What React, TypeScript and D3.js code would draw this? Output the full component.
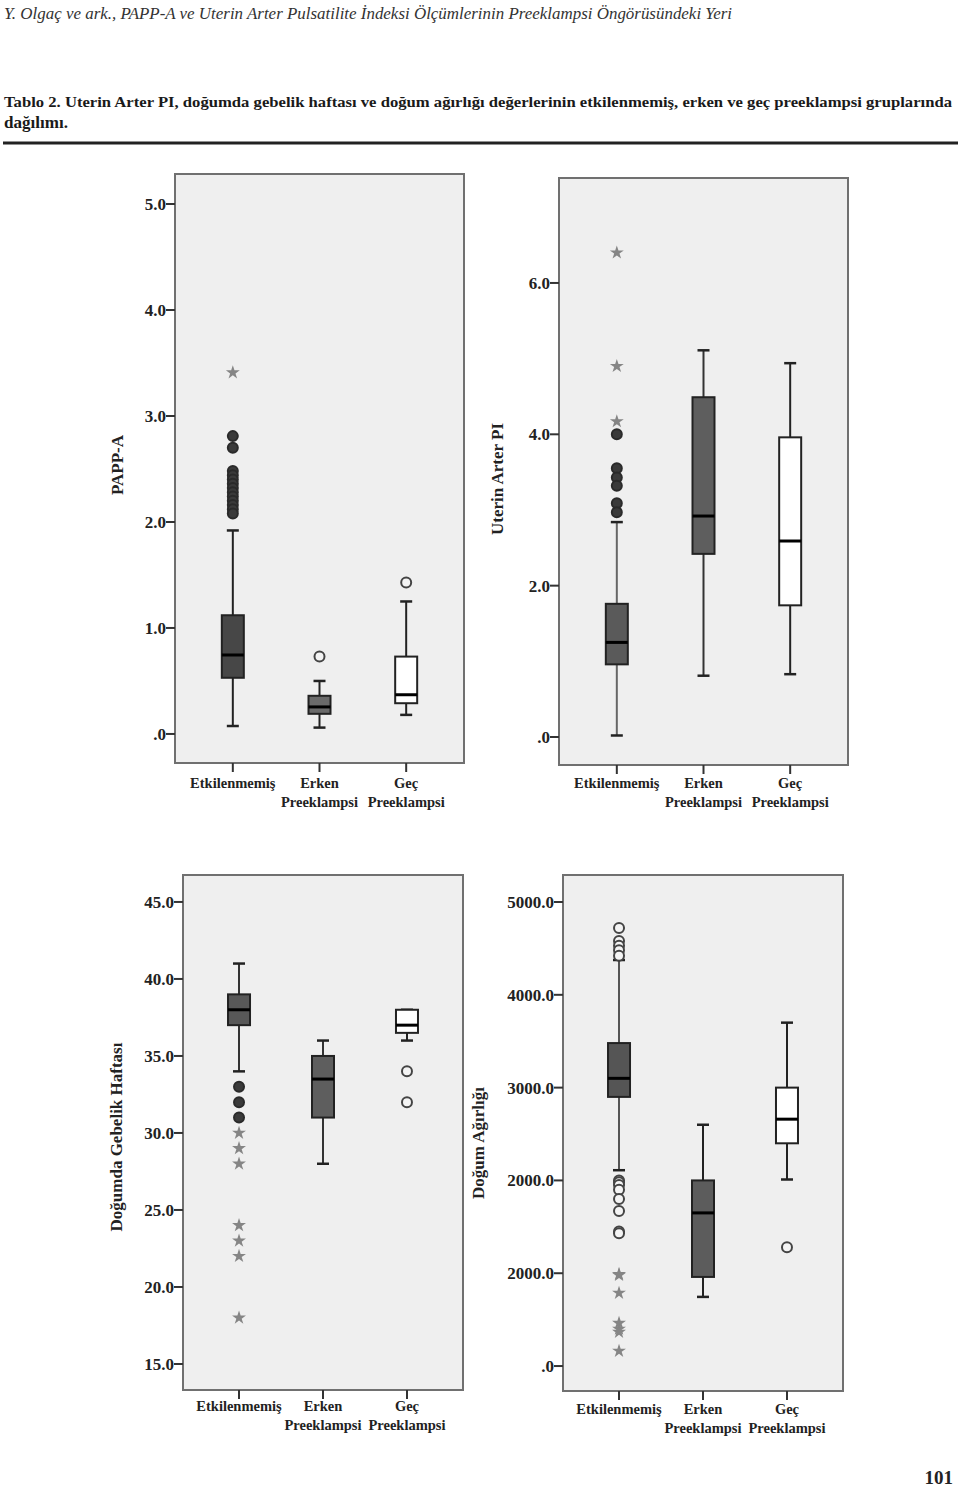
import React from "react";
import * as d3 from "d3";

// ---------- data ----------
const catLine1 = ["Etkilenmemiş", "Erken", "Geç"];
const catLine2 = ["", "Preeklampsi", "Preeklampsi"];

// [min whisker, Q1, median, Q3, max whisker] per group
const pappaStats = [
  [0.075, 0.53, 0.745, 1.12, 1.92],
  [0.06, 0.19, 0.255, 0.36, 0.5],
  [0.18, 0.29, 0.37, 0.73, 1.25],
];
const pappaCircles = [
  [2.81, 2.7, 2.48, 2.44, 2.4, 2.36, 2.32, 2.28, 2.24, 2.2, 2.16, 2.12, 2.08],
  [0.73],
  [1.43],
];
const pappaStars = [[3.41], [], []];
const pappaTicks = [0, 1, 2, 3, 4, 5];
const pappaTickLabels = [".0", "1.0", "2.0", "3.0", "4.0", "5.0"];

const piStats = [
  [0.02, 0.96, 1.25, 1.76, 2.84],
  [0.81, 2.42, 2.92, 4.49, 5.11],
  [0.83, 1.74, 2.59, 3.96, 4.94],
];
const piCircles = [[4.0, 3.55, 3.43, 3.32, 3.09, 2.97], [], []];
const piStars = [[6.4, 4.9, 4.17], [], []];
const piTicks = [0, 2, 4, 6];
const piTickLabels = [".0", "2.0", "4.0", "6.0"];

const gaStats = [
  [34, 37, 38, 39, 41],
  [28, 31, 33.5, 35, 36],
  [36, 36.5, 37, 38, 38],
];
const gaCircles = [[33, 32, 31], [], [34, 32]];
const gaStars = [[30, 29, 28, 24, 23, 22, 18], [], []];
const gaTicks = [15, 20, 25, 30, 35, 40, 45];
const gaTickLabels = ["15.0", "20.0", "25.0", "30.0", "35.0", "40.0", "45.0"];

const bwStats = [
  [2110, 2900, 3100, 3480, 4375],
  [745, 960, 1650, 2000, 2600],
  [2010, 2400, 2660, 3000, 3700],
];
const bwCircles = [
  [4720, 4580, 4530, 4480, 4420, 2000, 1980, 1950, 1900, 1800, 1670, 1450, 1430],
  [],
  [1280],
];
const bwStars = [[990, 980, 787, 463, 400, 366, 162], [], []];
const bwTicks = [0, 1000, 2000, 3000, 4000, 5000];
const bwTickLabels = [".0", "2000.0", "2000.0", "3000.0", "4000.0", "5000.0"];

// ---------- styling ----------
const SERIF = "'Liberation Serif', 'DejaVu Serif', serif";

type PanelProps = {
  x0: number; x1: number; y0: number; y1: number;
  domain: [number, number];
  stats: number[][];
  circles: number[][];
  stars: number[][];
  ticks: number[];
  tickLabels: string[];
  fills: string[];
  filledCircles: boolean[];
  whiskerColors: string[];
  title: string;
  titleX: number;
  titleY: number;
  catY: number;
};

function Panel(p: PanelProps) {
  const y = d3.scaleLinear().domain(p.domain).range([p.y1, p.y0]);
  const x = d3.scalePoint<number>().domain([0, 1, 2]).range([p.x0, p.x1]).padding(0.667);
  const bw = 22;
  const cap = 12;
  const star = d3.symbol().type(d3.symbolStar).size(60)();
  return (
    <g>
      <rect x={p.x0} y={p.y0} width={p.x1 - p.x0} height={p.y1 - p.y0}
        fill="#efefef" stroke="#707070" strokeWidth={2} />
      {p.ticks.map((t, i) => (
        <g key={"t" + i}>
          <line x1={p.x0 - 9} x2={p.x0} y1={y(t)} y2={y(t)} stroke="#333" strokeWidth={2} />
          <text x={p.x0 - 9} y={y(t)} dy="0.35em" textAnchor="end"
            fontFamily={SERIF} fontWeight="bold" fontSize={17} fill="#222">{p.tickLabels[i]}</text>
        </g>
      ))}
      {[0, 1, 2].map((g) => {
        const cx = x(g) as number;
        const [mn, q1, md, q3, mx] = p.stats[g];
        return (
          <g key={"b" + g}>
            <line x1={cx} x2={cx} y1={p.y1} y2={p.y1 + 9} stroke="#333" strokeWidth={2} />
            <text x={cx} y={p.catY} textAnchor="middle" fontFamily={SERIF} fontWeight="bold"
              fontSize={14.5} fill="#222">{catLine1[g]}</text>
            {catLine2[g] && (
              <text x={cx} y={p.catY + 19} textAnchor="middle" fontFamily={SERIF} fontWeight="bold"
                fontSize={14.5} fill="#222">{catLine2[g]}</text>
            )}
            <line x1={cx} x2={cx} y1={y(mx)} y2={y(q3)} stroke={p.whiskerColors[g]} strokeWidth={2} />
            <line x1={cx} x2={cx} y1={y(q1)} y2={y(mn)} stroke={p.whiskerColors[g]} strokeWidth={2} />
            <line x1={cx - cap / 2} x2={cx + cap / 2} y1={y(mx)} y2={y(mx)} stroke="#222" strokeWidth={2.5} />
            <line x1={cx - cap / 2} x2={cx + cap / 2} y1={y(mn)} y2={y(mn)} stroke="#222" strokeWidth={2.5} />
            <rect x={cx - bw / 2} y={y(q3)} width={bw} height={y(q1) - y(q3)}
              fill={p.fills[g]} stroke="#222" strokeWidth={2} />
            <line x1={cx - bw / 2} x2={cx + bw / 2} y1={y(md)} y2={y(md)} stroke="#000" strokeWidth={3} />
            {p.circles[g].map((v, k) => (
              <circle key={"c" + k} cx={cx} cy={y(v)} r={5}
                fill={p.filledCircles[g] ? "#3a3a3a" : "#f4f4f4"}
                stroke={p.filledCircles[g] ? "#2a2a2a" : "#444"} strokeWidth={2} />
            ))}
            {p.stars[g].map((v, k) => (
              <path key={"s" + k} d={star || ""} transform={`translate(${cx},${y(v)})`} fill="#858585" />
            ))}
          </g>
        );
      })}
      <text transform={`translate(${p.titleX},${p.titleY}) rotate(-90)`} textAnchor="middle"
        dy="0.35em" fontFamily={SERIF} fontWeight="bold" fontSize={17} fill="#222">{p.title}</text>
    </g>
  );
}

export default function App() {
  return (
    <svg width={960} height={1487} style={{ position: "absolute", left: 0, top: 0, background: "#fff" }}>
      <text x={4} y={19} fontFamily={SERIF} fontStyle="italic" fontSize={17} fill="#333"
        textLength={728} lengthAdjust="spacingAndGlyphs">
        Y. Olgaç ve ark., PAPP-A ve Uterin Arter Pulsatilite İndeksi Ölçümlerinin Preeklampsi Öngörüsündeki Yeri
      </text>
      <text x={4} y={107} fontFamily={SERIF} fontWeight="bold" fontSize={15.5} fill="#1a1a1a"
        textLength={948} lengthAdjust="spacingAndGlyphs">
        Tablo 2. Uterin Arter PI, doğumda gebelik haftası ve doğum ağırlığı değerlerinin etkilenmemiş, erken ve geç preeklampsi gruplarında
      </text>
      <text x={4} y={128} fontFamily={SERIF} fontWeight="bold" fontSize={16} fill="#1a1a1a"
        textLength={64} lengthAdjust="spacingAndGlyphs">dağılımı.</text>
      <line x1={3} x2={958} y1={143} y2={143} stroke="#222" strokeWidth={3} />

      <Panel x0={175} x1={464} y0={174} y1={763} domain={[-0.274, 5.283]}
        stats={pappaStats} circles={pappaCircles} stars={pappaStars}
        ticks={pappaTicks} tickLabels={pappaTickLabels}
        fills={["#474747", "#6a6a6a", "#ffffff"]} filledCircles={[true, false, false]}
        whiskerColors={["#222", "#222", "#222"]}
        title="PAPP-A" titleX={117} titleY={465} catY={788} />
      <Panel x0={559} x1={848} y0={178} y1={765} domain={[-0.37, 7.387]}
        stats={piStats} circles={piCircles} stars={piStars}
        ticks={piTicks} tickLabels={piTickLabels}
        fills={["#5a5a5a", "#5e5e5e", "#ffffff"]} filledCircles={[true, false, false]}
        whiskerColors={["#666", "#333", "#222"]}
        title="Uterin Arter PI" titleX={497} titleY={479} catY={788} />
      <Panel x0={183} x1={463} y0={875} y1={1390} domain={[13.31, 46.75]}
        stats={gaStats} circles={gaCircles} stars={gaStars}
        ticks={gaTicks} tickLabels={gaTickLabels}
        fills={["#585858", "#5e5e5e", "#ffffff"]} filledCircles={[true, false, false]}
        whiskerColors={["#333", "#333", "#222"]}
        title="Doğumda Gebelik Haftası" titleX={116} titleY={1137} catY={1411} />
      <Panel x0={563} x1={843} y0={875} y1={1391} domain={[-269, 5291]}
        stats={bwStats} circles={bwCircles} stars={bwStars}
        ticks={bwTicks} tickLabels={bwTickLabels}
        fills={["#555555", "#5c5c5c", "#ffffff"]} filledCircles={[false, false, false]}
        whiskerColors={["#555", "#222", "#222"]}
        title="Doğum Ağırlığı" titleX={478} titleY={1143} catY={1414} />

      <text x={953} y={1484} textAnchor="end" fontFamily={SERIF} fontWeight="bold" fontSize={19}
        fill="#222">101</text>
    </svg>
  );
}
